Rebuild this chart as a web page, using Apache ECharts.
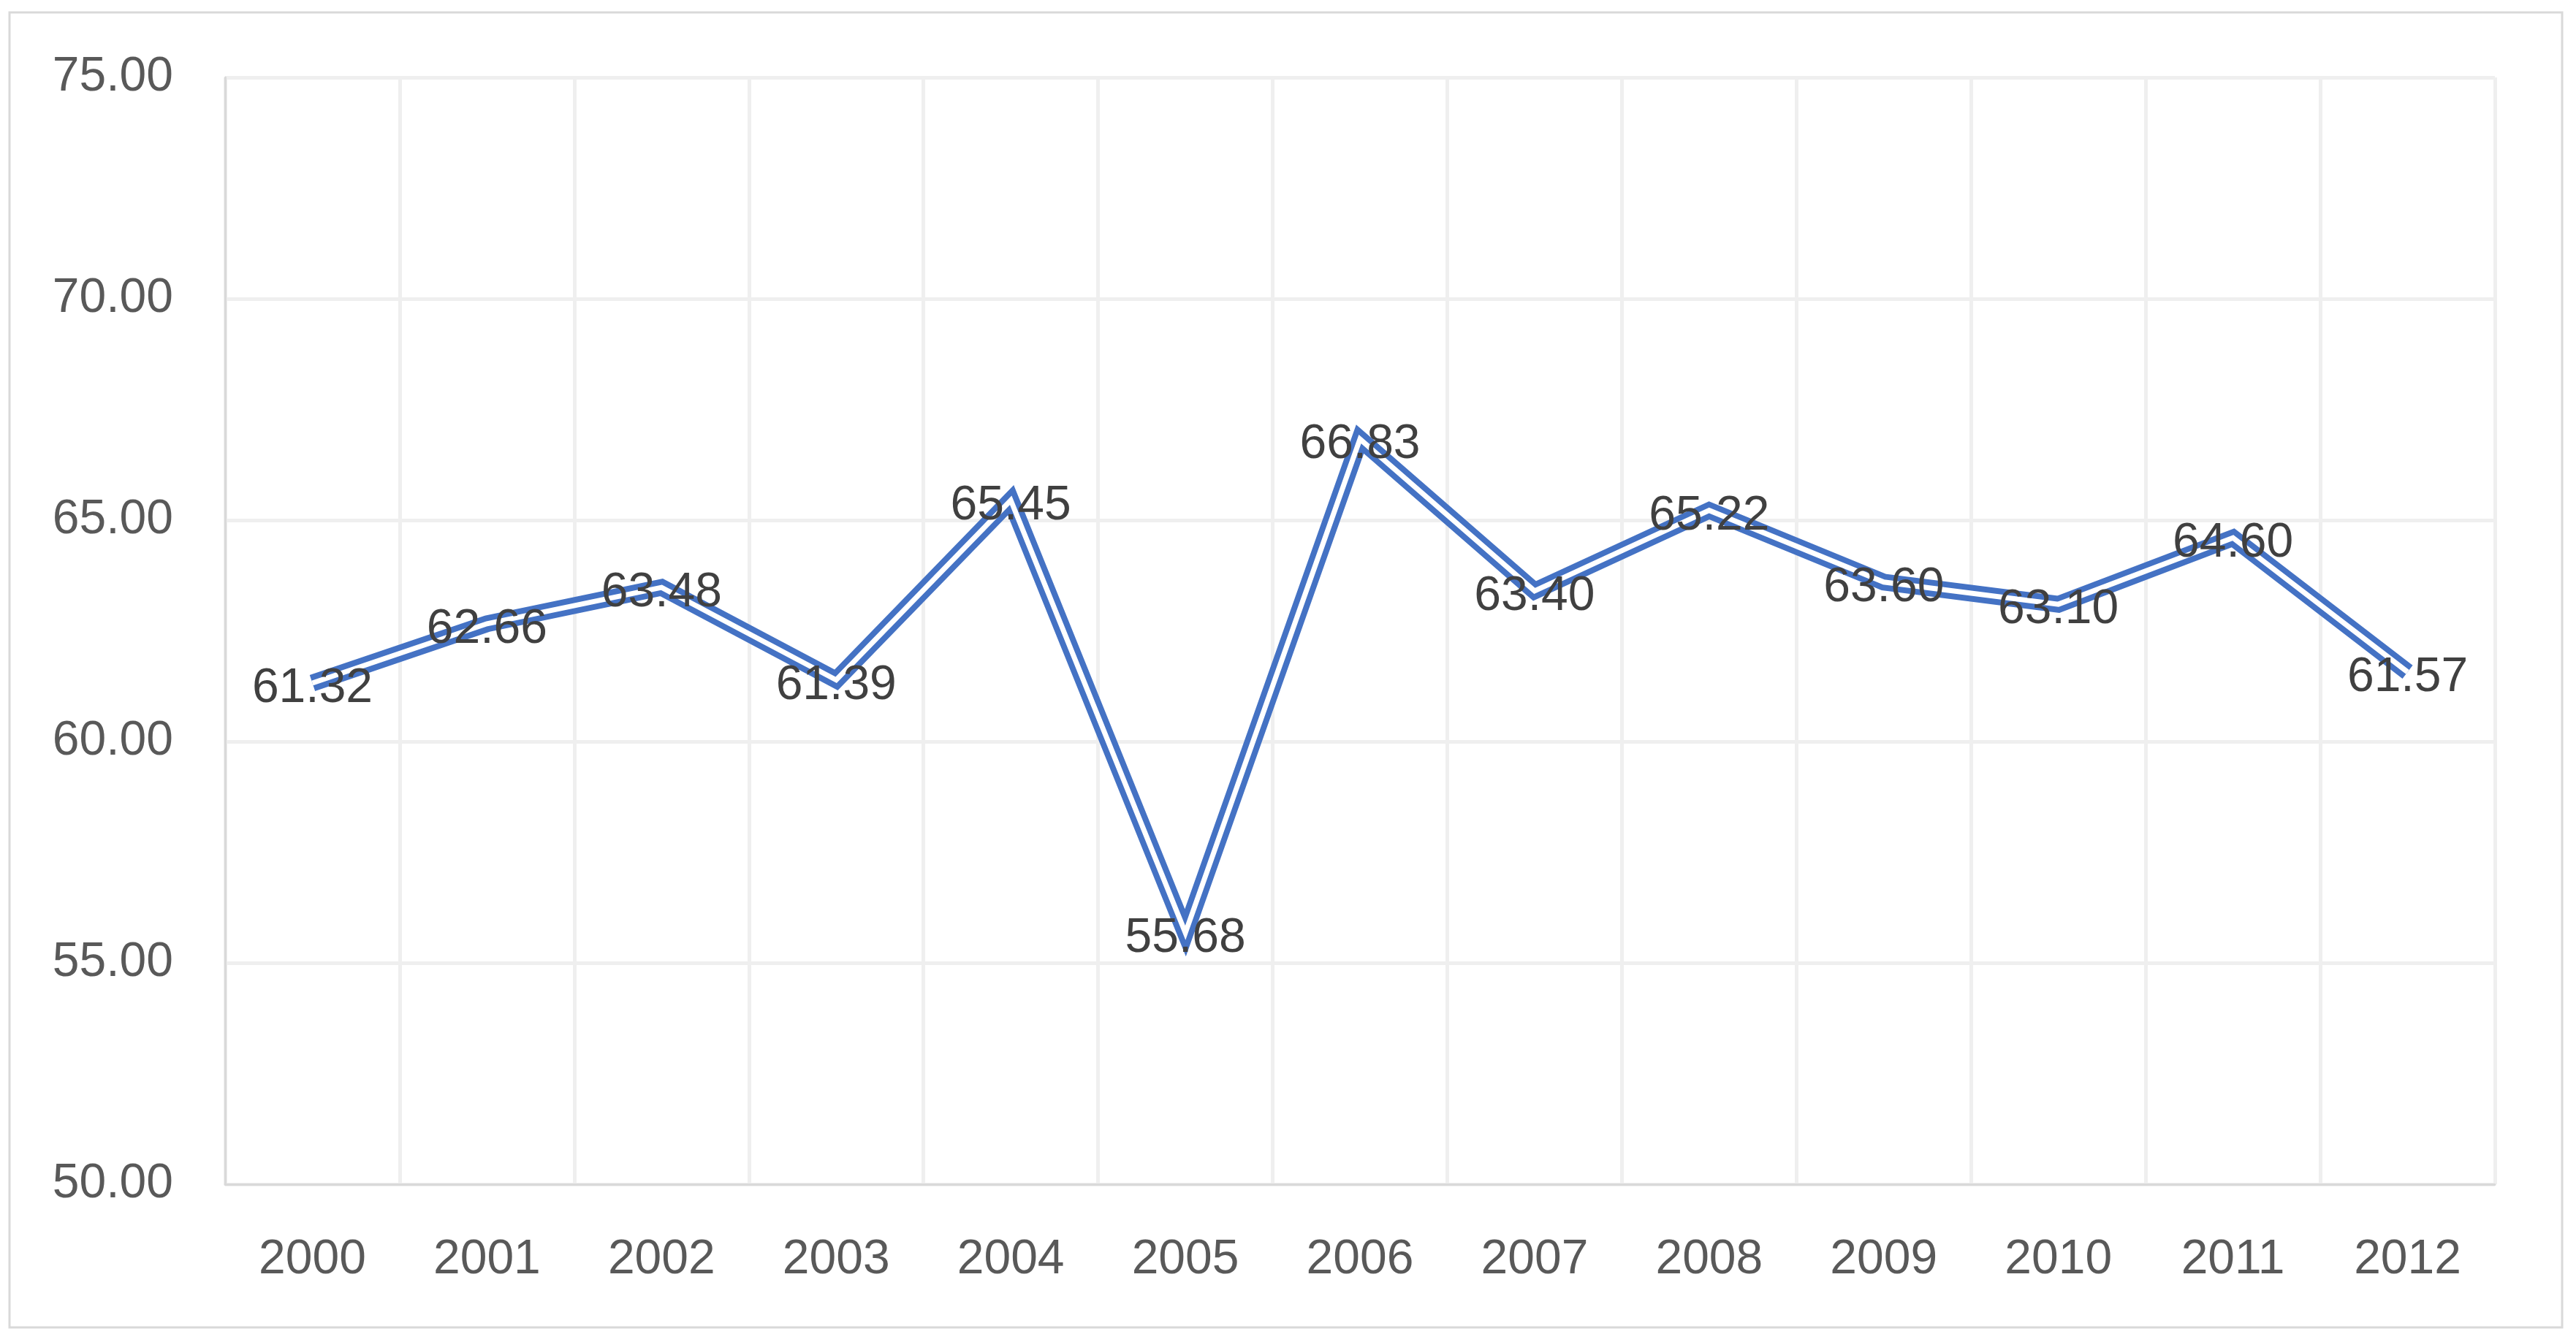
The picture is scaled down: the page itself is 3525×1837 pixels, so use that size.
<!DOCTYPE html>
<html>
<head>
<meta charset="utf-8">
<style>
html,body{margin:0;padding:0;background:#fff;}
#chart{width:3525px;height:1837px;}
</style>
<script src="https://cdn.jsdelivr.net/npm/echarts@6/dist/echarts.min.js"></script>
</head>
<body>
<div id="chart"></div>
<script>
const years = ['2000','2001','2002','2003','2004','2005','2006','2007','2008','2009','2010','2011','2012'];
const values = [61.32, 62.66, 63.48, 61.39, 65.45, 55.68, 66.83, 63.40, 65.22, 63.60, 63.10, 64.60, 61.57];
const yMin = 50, yMax = 75, yStep = 5;

const FONT = 'Liberation Sans';
const chart = echarts.init(document.getElementById('chart'));
chart.setOption({
  animation: false,
  backgroundColor: '#ffffff',
  graphic: [{
    type: 'rect',
    shape: {x: 13, y: 17, width: 3493, height: 1800},
    style: {fill: 'none', stroke: '#d9d9d9', lineWidth: 3},
    z: 0
  }],
  grid: {left: 308, right: 111, top: 106, bottom: 216},
  xAxis: {
    type: 'category',
    data: years,
    boundaryGap: true,
    axisTick: {show: false},
    axisLine: {show: true, lineStyle: {color: '#d9d9d9', width: 3}},
    splitLine: {show: true, lineStyle: {color: '#efefef', width: 5}},
    axisLabel: {color: '#595959', fontFamily: FONT, fontSize: 66, margin: 71, interval: 0}
  },
  yAxis: {
    type: 'value',
    min: yMin, max: yMax, interval: yStep,
    axisTick: {show: false},
    axisLine: {show: true, lineStyle: {color: '#d9d9d9', width: 3}},
    splitLine: {show: true, lineStyle: {color: '#efefef', width: 5}},
    axisLabel: {color: '#595959', fontFamily: FONT, fontSize: 66, margin: 71,
      formatter: v => v.toFixed(2)}
  },
  series: [
    {
      type: 'line',
      data: values,
      symbol: 'none',
      lineStyle: {color: '#4472C4', width: 23, join: 'miter', miterLimit: 10, cap: 'butt'},
      z: 2,
      silent: true
    },
    {
      type: 'line',
      data: values,
      symbol: 'circle',
      symbolSize: 1,
      itemStyle: {color: 'rgba(255,255,255,0)'},
      lineStyle: {color: '#ffffff', width: 7, join: 'miter', miterLimit: 10, cap: 'butt'},
      label: {
        show: true, position: 'inside', offset: [0, 8],
        color: '#404040', fontFamily: FONT, fontSize: 66,
        formatter: p => p.value.toFixed(2)
      },
      z: 3,
      silent: true
    }
  ]
});
</script>
</body>
</html>
